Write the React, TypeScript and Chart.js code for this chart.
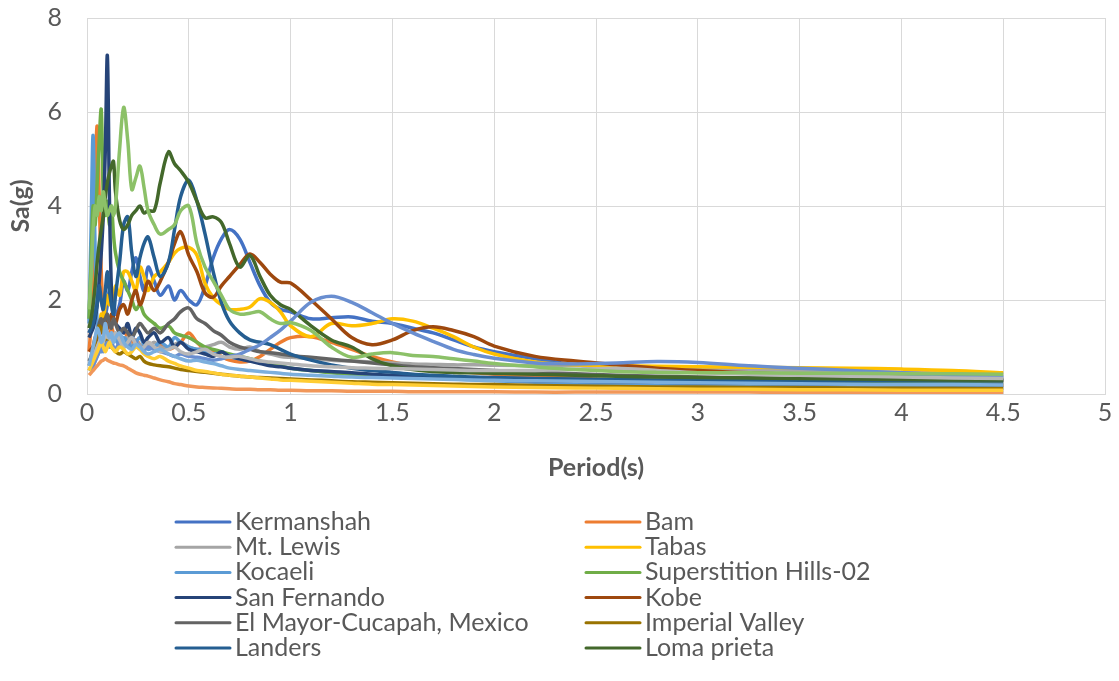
import React, { useEffect, useRef } from "react";
import { Chart, registerables } from "chart.js";

Chart.register(...registerables);

// Spectral period grid (s), shared by every record
const PERIODS = [
  0.01, 0.02, 0.03, 0.04, 0.05, 0.06, 0.07, 0.08, 0.09, 0.1,
  0.11, 0.12, 0.13, 0.14, 0.16, 0.18, 0.2, 0.22, 0.24, 0.26,
  0.28, 0.3, 0.33, 0.36, 0.4, 0.43, 0.46, 0.5, 0.54, 0.58,
  0.62, 0.66, 0.7, 0.75, 0.8, 0.85, 0.9, 0.95, 1.0, 1.1,
  1.2, 1.3, 1.4, 1.5, 1.6, 1.7, 1.8, 1.9, 2.0, 2.2,
  2.4, 2.6, 2.8, 3.0, 3.25, 3.5, 3.75, 4.0, 4.25, 4.5,
];

// Spectral acceleration Sa (g) per record
const KERMANSHAH = [
  1.3, 1.4, 1.6, 1.8, 2.0, 2.2, 2.0, 1.8, 1.7, 1.9,
  2.2, 2.0, 1.8, 1.7, 1.9, 2.4, 2.2, 2.6, 2.9, 2.5,
  2.2, 2.7, 2.4, 2.1, 2.3, 2.0, 2.2, 2.0, 1.9, 2.3,
  2.9, 3.3, 3.5, 3.3, 2.8, 2.3, 1.95, 1.8, 1.75, 1.6,
  1.62, 1.64, 1.55, 1.5, 1.4, 1.3, 1.15, 1.0, 0.9, 0.75,
  0.62, 0.55, 0.5, 0.48, 0.45, 0.42, 0.4, 0.38, 0.36, 0.35,
];
const BAM = [
  0.9, 1.5, 3.0, 4.6, 5.7, 4.2, 2.6, 1.8, 1.5, 1.3,
  1.2, 1.4, 1.3, 1.2, 1.3, 1.35, 1.2, 1.1, 1.15, 1.05,
  1.0, 1.1, 1.0, 1.05, 0.95, 1.0, 1.1, 1.3, 1.1, 0.95,
  0.9, 0.8, 0.72, 0.68, 0.7, 0.8, 0.95, 1.1, 1.2, 1.22,
  1.1, 0.95, 0.8, 0.68, 0.6, 0.55, 0.5, 0.45, 0.42, 0.38,
  0.34, 0.3, 0.28, 0.26, 0.24, 0.22, 0.21, 0.2, 0.19, 0.18,
];
const MT_LEWIS = [
  0.5, 0.55, 0.6, 0.7, 0.8, 0.9, 1.0, 0.95, 1.1, 1.2,
  1.1, 1.3, 1.2, 1.15, 1.25, 1.1, 1.2, 1.0, 1.1, 1.05,
  0.95, 1.0, 1.1, 1.0, 0.95, 1.05, 1.1, 1.0, 0.95, 1.0,
  1.05, 1.1, 1.0, 0.95, 1.0, 0.9, 0.85, 0.8, 0.78, 0.75,
  0.72, 0.7, 0.68, 0.66, 0.64, 0.63, 0.62, 0.62, 0.61, 0.6,
  0.6, 0.58, 0.56, 0.55, 0.52, 0.5, 0.48, 0.46, 0.44, 0.42,
];
const TABAS = [
  0.5, 0.6, 0.8, 1.0, 1.2, 1.4, 1.7, 1.6, 1.9, 2.1,
  1.9, 2.2, 2.0, 2.3, 2.1, 2.6, 2.6, 2.4, 2.2, 2.7,
  2.5, 2.2, 2.5, 2.6, 2.8, 3.0, 3.1, 3.12, 2.95, 2.35,
  2.05, 1.9, 1.8, 1.8, 1.85, 2.03, 1.95, 1.75, 1.45, 1.22,
  1.5, 1.45, 1.5, 1.6, 1.55, 1.4, 1.22, 1.0, 0.85, 0.68,
  0.62, 0.6, 0.59, 0.58, 0.57, 0.56, 0.55, 0.53, 0.5, 0.45,
];
const KOCAELI = [
  1.5, 3.5, 5.5, 3.0, 1.5, 1.1, 0.9, 1.0, 1.2, 1.1,
  1.0, 1.1, 1.2, 1.15, 1.05, 1.2, 1.1, 1.0, 1.1, 1.2,
  1.05, 0.95, 1.0, 1.1, 1.0, 1.2, 1.1, 1.0, 0.95, 0.9,
  0.85, 0.9, 0.8, 0.75, 0.7, 0.68, 0.65, 0.6, 0.55, 0.5,
  0.46, 0.43, 0.4, 0.38, 0.36, 0.34, 0.32, 0.3, 0.28, 0.25,
  0.22, 0.2, 0.19, 0.18, 0.17, 0.16, 0.15, 0.15, 0.14, 0.14,
];
const SUPERSTITION_HILLS = [
  1.6, 2.8, 4.0, 3.6, 4.5, 5.4, 6.05, 4.2, 3.8, 4.1,
  3.6, 4.0, 3.4, 3.0, 2.6, 2.4, 2.2, 2.0, 1.8, 1.9,
  1.7, 1.6, 1.5, 1.4, 1.45, 1.3, 1.25, 1.2, 1.1, 1.0,
  0.95, 0.9, 0.85, 0.8, 0.75, 0.7, 0.65, 0.6, 0.55, 0.5,
  0.45, 0.42, 0.4, 0.38, 0.36, 0.35, 0.34, 0.33, 0.32, 0.31,
  0.3, 0.3, 0.29, 0.29, 0.28, 0.28, 0.27, 0.27, 0.26, 0.26,
];
const SAN_FERNANDO = [
  1.2, 1.3, 1.4, 1.6, 1.9, 2.4, 3.0, 3.8, 5.2, 7.2,
  4.2, 2.2, 1.6, 1.5, 1.4, 1.3, 1.5, 1.2, 1.4, 1.3,
  1.1, 1.2, 1.3, 1.1, 1.2, 1.0, 1.1, 0.95, 0.9, 0.85,
  0.8, 0.9, 0.8, 0.75, 0.7, 0.65, 0.6, 0.58, 0.55, 0.5,
  0.48, 0.45, 0.42, 0.4, 0.38, 0.36, 0.34, 0.32, 0.3, 0.28,
  0.27, 0.26, 0.25, 0.24, 0.23, 0.22, 0.21, 0.2, 0.2, 0.19,
];
const KOBE = [
  0.9, 0.95, 1.0, 1.1, 1.2, 1.4, 1.3, 1.5, 1.6, 1.4,
  1.5, 1.7, 1.6, 1.5, 1.8, 1.9, 1.7, 2.0, 2.2, 1.9,
  2.1, 2.4, 2.2, 2.4, 2.8, 3.2, 3.45, 2.95, 2.6, 2.15,
  2.06, 2.3, 2.5, 2.75, 2.98, 2.8, 2.55, 2.38, 2.36, 2.0,
  1.6, 1.2, 1.05, 1.15, 1.35, 1.43, 1.35, 1.22, 1.02, 0.8,
  0.7, 0.62, 0.55, 0.5, 0.45, 0.42, 0.38, 0.35, 0.32, 0.3,
];
const EL_MAYOR_CUCAPAH = [
  0.7, 0.8, 1.0, 1.2, 1.3, 1.5, 1.6, 1.4, 1.6, 1.7,
  1.5, 1.4, 1.6, 1.5, 1.3, 1.4, 1.3, 1.2, 1.35, 1.5,
  1.4, 1.3, 1.4, 1.3, 1.5, 1.6, 1.75, 1.83, 1.6, 1.5,
  1.35, 1.25, 1.1, 1.0, 0.95, 0.9, 0.88, 0.85, 0.82, 0.78,
  0.74, 0.7, 0.66, 0.62, 0.58, 0.56, 0.54, 0.52, 0.5, 0.46,
  0.43, 0.4, 0.38, 0.36, 0.34, 0.32, 0.31, 0.3, 0.29, 0.28,
];
const IMPERIAL_VALLEY = [
  0.6, 0.7, 0.9, 1.1, 1.3, 1.45, 1.4, 1.3, 1.2, 1.1,
  1.05, 1.0, 0.95, 0.9, 0.85, 0.9, 0.85, 0.8, 0.75, 0.8,
  0.7, 0.65, 0.62, 0.6, 0.58, 0.55, 0.52, 0.5, 0.48, 0.46,
  0.44, 0.42, 0.4, 0.38, 0.36, 0.35, 0.34, 0.33, 0.32, 0.3,
  0.28, 0.26, 0.25, 0.24, 0.23, 0.22, 0.21, 0.2, 0.2, 0.18,
  0.17, 0.16, 0.15, 0.15, 0.14, 0.14, 0.13, 0.13, 0.12, 0.12,
];
const LANDERS = [
  1.3, 1.4, 1.5, 1.7, 1.9, 2.3, 2.0, 1.8, 2.2, 2.6,
  2.2, 1.9, 1.7, 2.1, 2.8, 3.6, 3.77, 3.0, 2.5, 2.9,
  3.2, 3.34, 2.9, 2.5, 2.8, 3.5, 4.2, 4.55, 4.1, 3.4,
  2.6, 1.95, 1.55, 1.3, 1.15, 1.1, 1.05, 0.95, 0.85, 0.72,
  0.62, 0.55, 0.5, 0.46, 0.42, 0.4, 0.38, 0.36, 0.35, 0.33,
  0.32, 0.31, 0.3, 0.3, 0.29, 0.29, 0.28, 0.28, 0.28, 0.28,
];
const LOMA_PRIETA = [
  1.4, 1.6, 1.9, 2.3, 2.8, 3.2, 3.5, 3.8, 4.2, 4.5,
  4.7, 4.85, 4.95, 4.3, 3.7, 3.5, 3.6, 3.8, 3.9, 4.0,
  3.85, 3.9, 3.9, 4.5, 5.15, 4.9, 4.75, 4.5, 4.1, 3.75,
  3.77, 3.65, 3.2, 2.7, 2.95, 2.5, 2.1, 1.9, 1.8, 1.45,
  1.15, 1.0, 0.75, 0.6, 0.52, 0.48, 0.46, 0.45, 0.44, 0.42,
  0.4, 0.38, 0.36, 0.35, 0.34, 0.33, 0.32, 0.31, 0.3, 0.3,
];
// Further records plotted without a legend entry
const RECORD_13 = [
  0.5, 0.55, 0.6, 0.7, 0.8, 0.9, 1.0, 0.9, 1.0, 1.1,
  1.0, 1.1, 1.0, 0.95, 1.1, 1.0, 1.05, 1.2, 1.1, 1.0,
  0.95, 1.0, 0.95, 0.9, 0.85, 0.8, 0.85, 0.8, 0.78, 0.75,
  0.72, 0.75, 0.8, 0.85, 0.95, 1.05, 1.2, 1.36, 1.55, 1.95,
  2.08, 1.95, 1.73, 1.5, 1.3, 1.12, 0.95, 0.84, 0.76, 0.66,
  0.64, 0.66, 0.69, 0.67, 0.6, 0.55, 0.5, 0.45, 0.4, 0.36,
];
const RECORD_14 = [
  0.4, 0.45, 0.5, 0.55, 0.6, 0.65, 0.7, 0.72, 0.75, 0.72,
  0.7, 0.68, 0.66, 0.65, 0.62, 0.6, 0.55, 0.5, 0.45, 0.42,
  0.4, 0.38, 0.34, 0.3, 0.26, 0.22, 0.2, 0.17, 0.15, 0.14,
  0.13, 0.12, 0.11, 0.1, 0.1, 0.09, 0.09, 0.08, 0.08, 0.07,
  0.07, 0.06, 0.06, 0.06, 0.05, 0.05, 0.05, 0.05, 0.05, 0.04,
  0.04, 0.04, 0.04, 0.04, 0.04, 0.03, 0.03, 0.03, 0.03, 0.03,
];
const RECORD_15 = [
  0.6, 0.7, 0.8, 0.9, 1.0, 1.1, 1.2, 1.1, 1.3, 1.2,
  1.25, 1.1, 1.2, 1.3, 1.15, 1.0, 1.1, 1.2, 1.05, 0.95,
  1.0, 1.1, 1.0, 0.9, 0.95, 1.0, 0.9, 0.85, 0.9, 0.95,
  0.85, 0.8, 0.78, 0.8, 0.75, 0.7, 0.68, 0.66, 0.64, 0.6,
  0.58, 0.56, 0.55, 0.54, 0.53, 0.52, 0.51, 0.5, 0.5, 0.5,
  0.52, 0.55, 0.5, 0.45, 0.42, 0.4, 0.38, 0.36, 0.34, 0.33,
];
const RECORD_16 = [
  0.5, 0.6, 0.7, 0.8, 0.9, 1.0, 1.1, 1.0, 0.9, 1.0,
  1.1, 1.0, 0.95, 0.9, 1.0, 0.95, 0.85, 0.9, 1.0, 0.95,
  0.85, 0.8, 0.75, 0.8, 0.7, 0.65, 0.6, 0.55, 0.5, 0.48,
  0.45, 0.42, 0.4, 0.38, 0.36, 0.34, 0.32, 0.3, 0.29, 0.27,
  0.25, 0.23, 0.21, 0.2, 0.19, 0.18, 0.17, 0.16, 0.15, 0.14,
  0.13, 0.12, 0.11, 0.1, 0.1, 0.09, 0.09, 0.08, 0.08, 0.08,
];
const RECORD_17 = [
  0.6, 0.8, 1.0, 1.2, 1.4, 1.3, 1.1, 1.2, 1.5, 1.3,
  1.2, 1.3, 1.1, 1.2, 1.3, 1.1, 1.0, 0.95, 1.05, 1.0,
  0.9, 0.85, 0.9, 0.95, 0.85, 0.8, 0.75, 0.7, 0.72, 0.68,
  0.65, 0.6, 0.55, 0.52, 0.5, 0.48, 0.46, 0.44, 0.42, 0.4,
  0.38, 0.36, 0.35, 0.34, 0.33, 0.32, 0.31, 0.3, 0.29, 0.28,
  0.27, 0.26, 0.25, 0.24, 0.23, 0.22, 0.21, 0.2, 0.2, 0.19,
];
const RECORD_18 = [
  1.8, 2.5, 3.5, 4.0, 3.8, 4.2, 3.9, 4.3, 4.0, 3.8,
  3.9, 4.0, 3.8, 4.0, 5.2, 6.1, 5.4, 4.35, 4.6, 4.85,
  4.4, 3.9, 3.6, 3.4, 3.5, 3.6, 3.9, 4.0, 3.2, 2.7,
  2.4, 2.1, 1.8, 1.7, 1.72, 1.75, 1.6, 1.5, 1.52, 1.35,
  1.0, 0.78, 0.85, 0.88, 0.82, 0.8, 0.75, 0.7, 0.65, 0.58,
  0.52, 0.48, 0.46, 0.45, 0.45, 0.44, 0.44, 0.43, 0.43, 0.42,
];

const X_TICKS = [0, 0.5, 1, 1.5, 2, 2.5, 3, 3.5, 4, 4.5, 5];
const Y_TICKS = [0, 2, 4, 6, 8];

const SERIES = [
  { label: "Kermanshah", color: "#4472C4", values: KERMANSHAH },
  { label: "Bam", color: "#ED7D31", values: BAM },
  { label: "Mt. Lewis", color: "#A5A5A5", values: MT_LEWIS },
  { label: "Tabas", color: "#FFC000", values: TABAS },
  { label: "Kocaeli", color: "#5B9BD5", values: KOCAELI },
  { label: "Superstition Hills-02", color: "#70AD47", values: SUPERSTITION_HILLS },
  { label: "San Fernando", color: "#264478", values: SAN_FERNANDO },
  { label: "Kobe", color: "#9E480E", values: KOBE },
  { label: "El Mayor-Cucapah, Mexico", color: "#636363", values: EL_MAYOR_CUCAPAH },
  { label: "Imperial Valley", color: "#997300", values: IMPERIAL_VALLEY },
  { label: "Landers", color: "#255E91", values: LANDERS },
  { label: "Loma prieta", color: "#43682B", values: LOMA_PRIETA },
  { label: "", color: "#698ED0", values: RECORD_13 },
  { label: "", color: "#F1975A", values: RECORD_14 },
  { label: "", color: "#B7B7B7", values: RECORD_15 },
  { label: "", color: "#FFCD33", values: RECORD_16 },
  { label: "", color: "#7CAFDD", values: RECORD_17 },
  { label: "", color: "#8CC168", values: RECORD_18 },
];

const FONT = "Lato, 'Noto Sans', sans-serif";
const TEXT_COLOR = "#595959";
const GRID_COLOR = "#D9D9D9";

// Two-column legend under the axis title
const legendPlugin = {
  id: "twoColumnLegend",
  afterDraw(chart: any) {
    const ctx = chart.ctx as CanvasRenderingContext2D;
    const items = chart.data.datasets.filter((d: any) => d.label);
    ctx.save();
    ctx.font = `25px ${FONT}`;
    ctx.textBaseline = "middle";
    ctx.textAlign = "left";
    items.forEach((ds: any, i: number) => {
      const col = i % 2;
      const row = Math.floor(i / 2);
      const x0 = col === 0 ? 176 : 586;
      const y = 522 + row * 25.2;
      ctx.strokeStyle = ds.borderColor;
      ctx.lineWidth = 3;
      ctx.lineCap = "round";
      ctx.beginPath();
      ctx.moveTo(x0, y);
      ctx.lineTo(x0 + 54, y);
      ctx.stroke();
      ctx.fillStyle = TEXT_COLOR;
      ctx.fillText(ds.label, x0 + 59, y);
    });
    ctx.restore();
  },
};

export default function App() {
  const canvasRef = useRef<HTMLCanvasElement | null>(null);

  useEffect(() => {
    document.body.style.margin = "0";
    const canvas = canvasRef.current;
    if (!canvas) return;

    const n = SERIES.length;
    const chart = new Chart(canvas, {
      type: "line",
      data: {
        datasets: SERIES.map((s, i) => ({
          label: s.label,
          data: PERIODS.map((p, k) => ({ x: p, y: s.values[k] })),
          borderColor: s.color,
          backgroundColor: s.color,
          borderWidth: 3.5,
          pointRadius: 0,
          tension: 0.35,
          fill: false,
          order: n - i,
        })),
      },
      options: {
        responsive: false,
        animation: false,
        devicePixelRatio: 1,
        layout: { padding: { top: 18, bottom: 198, left: 0, right: 14 } },
        plugins: {
          legend: { display: false },
          tooltip: { enabled: false },
        },
        scales: {
          x: {
            type: "linear",
            min: 0,
            max: 5,
            afterBuildTicks: (scale: any) => {
              scale.ticks = X_TICKS.map((v) => ({ value: v }));
            },
            afterFit: (scale: any) => {
              scale.height = 89;
            },
            ticks: {
              padding: 4,
              maxRotation: 0,
              autoSkip: false,
              color: TEXT_COLOR,
              font: { family: FONT, size: 25 },
              callback: (v: any) => String(v),
            },
            grid: { color: GRID_COLOR, lineWidth: 1, drawTicks: false },
            border: { color: GRID_COLOR },
            title: {
              display: true,
              text: "Period(s)",
              color: TEXT_COLOR,
              font: { family: FONT, size: 25, weight: "bold" },
              padding: { top: 0, bottom: 0 },
            },
          },
          y: {
            type: "linear",
            min: 0,
            max: 8,
            afterBuildTicks: (scale: any) => {
              scale.ticks = Y_TICKS.map((v) => ({ value: v }));
            },
            afterFit: (scale: any) => {
              scale.width = 87;
              // the label gap is horizontal only; keep the plot top at the layout padding
              scale.paddingTop = 0;
              scale.paddingBottom = 0;
            },
            ticks: {
              padding: 25,
              color: TEXT_COLOR,
              font: { family: FONT, size: 25 },
              callback: (v: any) => String(v),
            },
            grid: { color: GRID_COLOR, lineWidth: 1, drawTicks: false },
            border: { display: false },
            title: {
              display: true,
              text: "Sa(g)",
              color: TEXT_COLOR,
              font: { family: FONT, size: 25, weight: "bold" },
              padding: { top: 6, bottom: 0 },
            },
          },
        },
      },
      plugins: [legendPlugin],
    });

    return () => chart.destroy();
  }, []);

  return (
    <div style={{ width: 1119, height: 681, background: "#fff" }}>
      <canvas ref={canvasRef} width={1119} height={681} />
    </div>
  );
}
